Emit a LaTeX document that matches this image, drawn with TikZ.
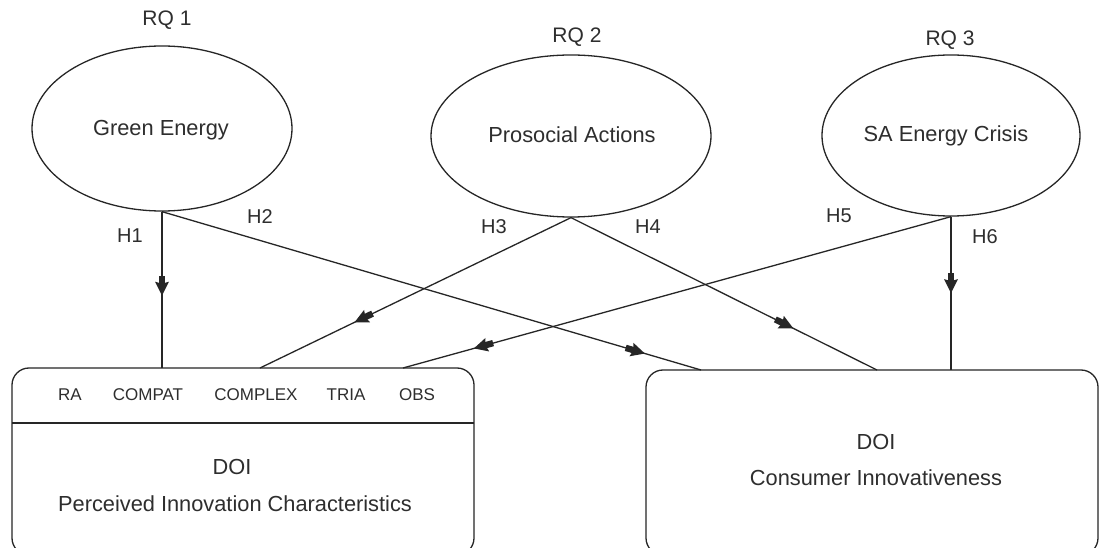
\documentclass[tikz,border=0pt]{standalone}
\usepackage{fontspec}
\setmainfont{Liberation Sans}
\usetikzlibrary{decorations.markings,shapes.geometric}
\definecolor{ink}{HTML}{262626}
\definecolor{txt}{HTML}{2E2E2E}
% a blocky arrowhead with a short thick stem, drawn along the path direction
\newcommand{\blockhead}{%
  \fill[ink] (-11pt,-3.2pt) rectangle (-2pt,3.2pt);
  \fill[ink] (-5pt,-7pt) -- (9pt,0pt) -- (-5pt,7pt) -- (-3pt,0pt) -- cycle;}
\begin{document}
\begin{tikzpicture}[x=1pt,y=-1pt,
  construct/.style={draw=ink,line width=1.3pt,ellipse,inner sep=0pt},
  panel/.style={draw=ink,line width=1.3pt,rounded corners=17pt},
  link/.style={draw=ink,line width=1.3pt,postaction={decorate},
    decoration={markings,mark=at position #1 with {\blockhead}}},
  link/.default=0.5,
  rq/.style={text=txt,font=\fontsize{21}{24}\selectfont},
  hyp/.style={text=txt,font=\fontsize{20}{23}\selectfont},
  big/.style={text=txt,font=\fontsize{21.8}{25}\selectfont},
  small/.style={text=txt,font=\fontsize{17}{20}\selectfont}]
\useasboundingbox (0,0) rectangle (1101,548);
\fill[white] (0,0) rectangle (1101,548);

% latent constructs
\node[construct,minimum width=260pt,minimum height=165pt] (ge) at (162,128.5) {};
\node[construct,minimum width=280pt,minimum height=162pt] (pa) at (571,136) {};
\node[construct,minimum width=258pt,minimum height=161pt] (sa) at (951,135.5) {};
\node[big] (get) at (161,130) {Green Energy};
\node[big] (pat) at (572,135) {Prosocial Actions};
\node[big] (sat) at (946,136) {SA Energy Crisis};

\node[rq] (rq1) at (167,20) {RQ 1};
\node[rq] (rq2) at (577,37) {RQ 2};
\node[rq] (rq3) at (950,40) {RQ 3};

% DOI panels
\draw[panel] (12,368) rectangle (474,555);
\draw[draw=ink,line width=1.3pt] (12,423) -- (474,423);
\draw[panel] (646,370) rectangle (1098,555);

\coordinate (l1) at (162,368);
\coordinate (l3) at (260,368);
\coordinate (l5) at (403,368);
\coordinate (r2) at (701,370);
\coordinate (r4) at (877,370);
\coordinate (r6) at (951,370);

\node[small] (ra) at (70,395) {RA};
\node[small] (compat) at (148,395) {COMPAT};
\node[small] (complex) at (256,395) {COMPLEX};
\node[small] (tria) at (346,395) {TRIA};
\node[small] (obs) at (417,395) {OBS};
\node[big] (doi1) at (232,467) {DOI};
\node[big] (pic) at (235,504) {Perceived Innovation Characteristics};
\node[big] (doi2) at (876,442) {DOI};
\node[big] (ci) at (876,478) {Consumer Innovativeness};

% hypothesised paths
\draw[link=0.48] (ge.south) -- (l1);
\draw[link=0.88] (ge.south) -- (r2);
\draw[link=0.67] (pa.south) -- (l3);
\draw[link=0.70] (pa.south) -- (r4);
\draw[link=0.855] (sa.south) -- (l5);
\draw[link=0.44] (sa.south) -- (r6);

\node[hyp] (h1) at (130,236) {H1};
\node[hyp] (h2) at (260,217) {H2};
\node[hyp] (h3) at (494,227) {H3};
\node[hyp] (h4) at (648,227) {H4};
\node[hyp] (h5) at (839,216) {H5};
\node[hyp] (h6) at (985,237) {H6};
\end{tikzpicture}
\end{document}
